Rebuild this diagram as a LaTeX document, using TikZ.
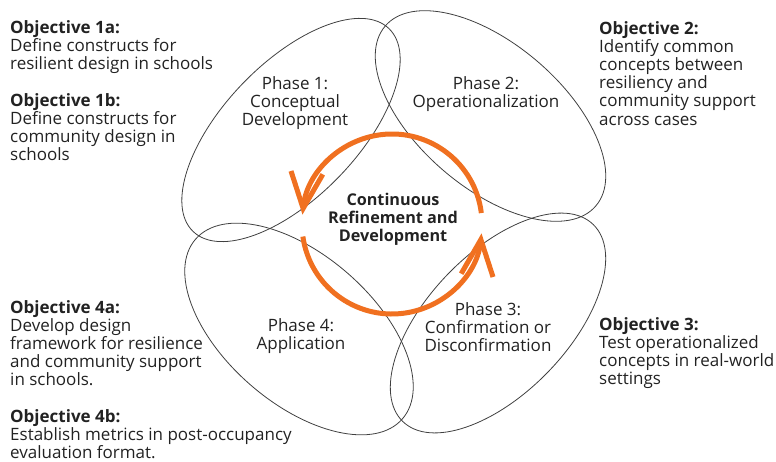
\documentclass[tikz,border=0pt]{standalone}
\usepackage{fontspec}
\setmainfont{Open Sans}
\usepackage{xcolor}
\usetikzlibrary{arrows, arrows.meta}
\usetikzlibrary{calc}

\definecolor{cycleorange}{RGB}{240,112,32}
\definecolor{inktext}{RGB}{34,34,34}

\begin{document}
\begin{tikzpicture}[x=1pt, y=-1pt,
    petal/.style={draw=black!75, line width=0.8pt},
    cyclearrow/.style={draw=cycleorange, line width=5pt, -{Straight Barb[length=36pt, width=32pt]}},
    objtext/.style={anchor=north west, align=left, inner sep=0pt, text=inktext, font=\fontsize{17}{18.2}\selectfont},
    phasetext/.style={align=center, inner sep=0pt, text=inktext, font=\fontsize{17}{18.2}\selectfont}]
      \useasboundingbox (0, 0) rectangle (776, 462);

      % the four petals
      \draw[petal, rotate around={46:(291, 130)}] (291, 130) ellipse [x radius=141, y radius=67];
      \draw[petal, rotate around={-40.5:(490.5, 116)}] (490.5, 116) ellipse [x radius=138.5, y radius=72];
      \draw[petal, rotate around={46:(498, 323)}] (498, 323) ellipse [x radius=137, y radius=70];
      \draw[petal, rotate around={-41:(299, 329)}] (299, 329) ellipse [x radius=137, y radius=74];

      % phases
      \node[phasetext] (p1) at (295, 103) {Phase 1:\\Conceptual\\Development};
      \node[phasetext] (p2) at (486, 94) {Phase 2:\\Operationalization};
      \node[phasetext] (p3) at (488, 327) {Phase 3:\\Confirmation or\\Disconfirmation};
      \node[phasetext] (p4) at (301, 336) {Phase 4:\\Application};
      \node[phasetext, font=\fontsize{16.2}{18.2}\selectfont\bfseries] (core) at (393, 219) {Continuous\\Refinement and\\Development};

      % refinement cycle
      \coordinate (c) at (392, 224);
      \draw[cyclearrow] ($(c)+(-7:90)$) arc[start angle=-7, end angle=-174, radius=90];
      \draw[cyclearrow] ($(c)+(172:90)$) arc[start angle=172, end angle=6, radius=90];

      % objectives
      \node[objtext] (o1a) at (10, 20) {\textbf{Objective 1a:}\\Define constructs for\\resilient design in schools};
      \node[objtext] (o1b) at (10, 93) {\textbf{Objective 1b:}\\Define constructs for\\community design in\\schools};
      \node[objtext] (o2) at (599, 21) {\textbf{Objective 2:}\\Identify common\\concepts between\\resiliency and\\community support\\across cases};
      \node[objtext] (o3) at (599, 317) {\textbf{Objective 3:}\\Test operationalized\\concepts in real-world\\settings};
      \node[objtext] (o4a) at (10, 300) {\textbf{Objective 4a:}\\Develop design\\framework for resilience\\and community support\\in schools.};
      \node[objtext] (o4b) at (10, 409) {\textbf{Objective 4b:}\\Establish metrics in post-occupancy\\evaluation format.};
    \end{tikzpicture}
\end{document}
